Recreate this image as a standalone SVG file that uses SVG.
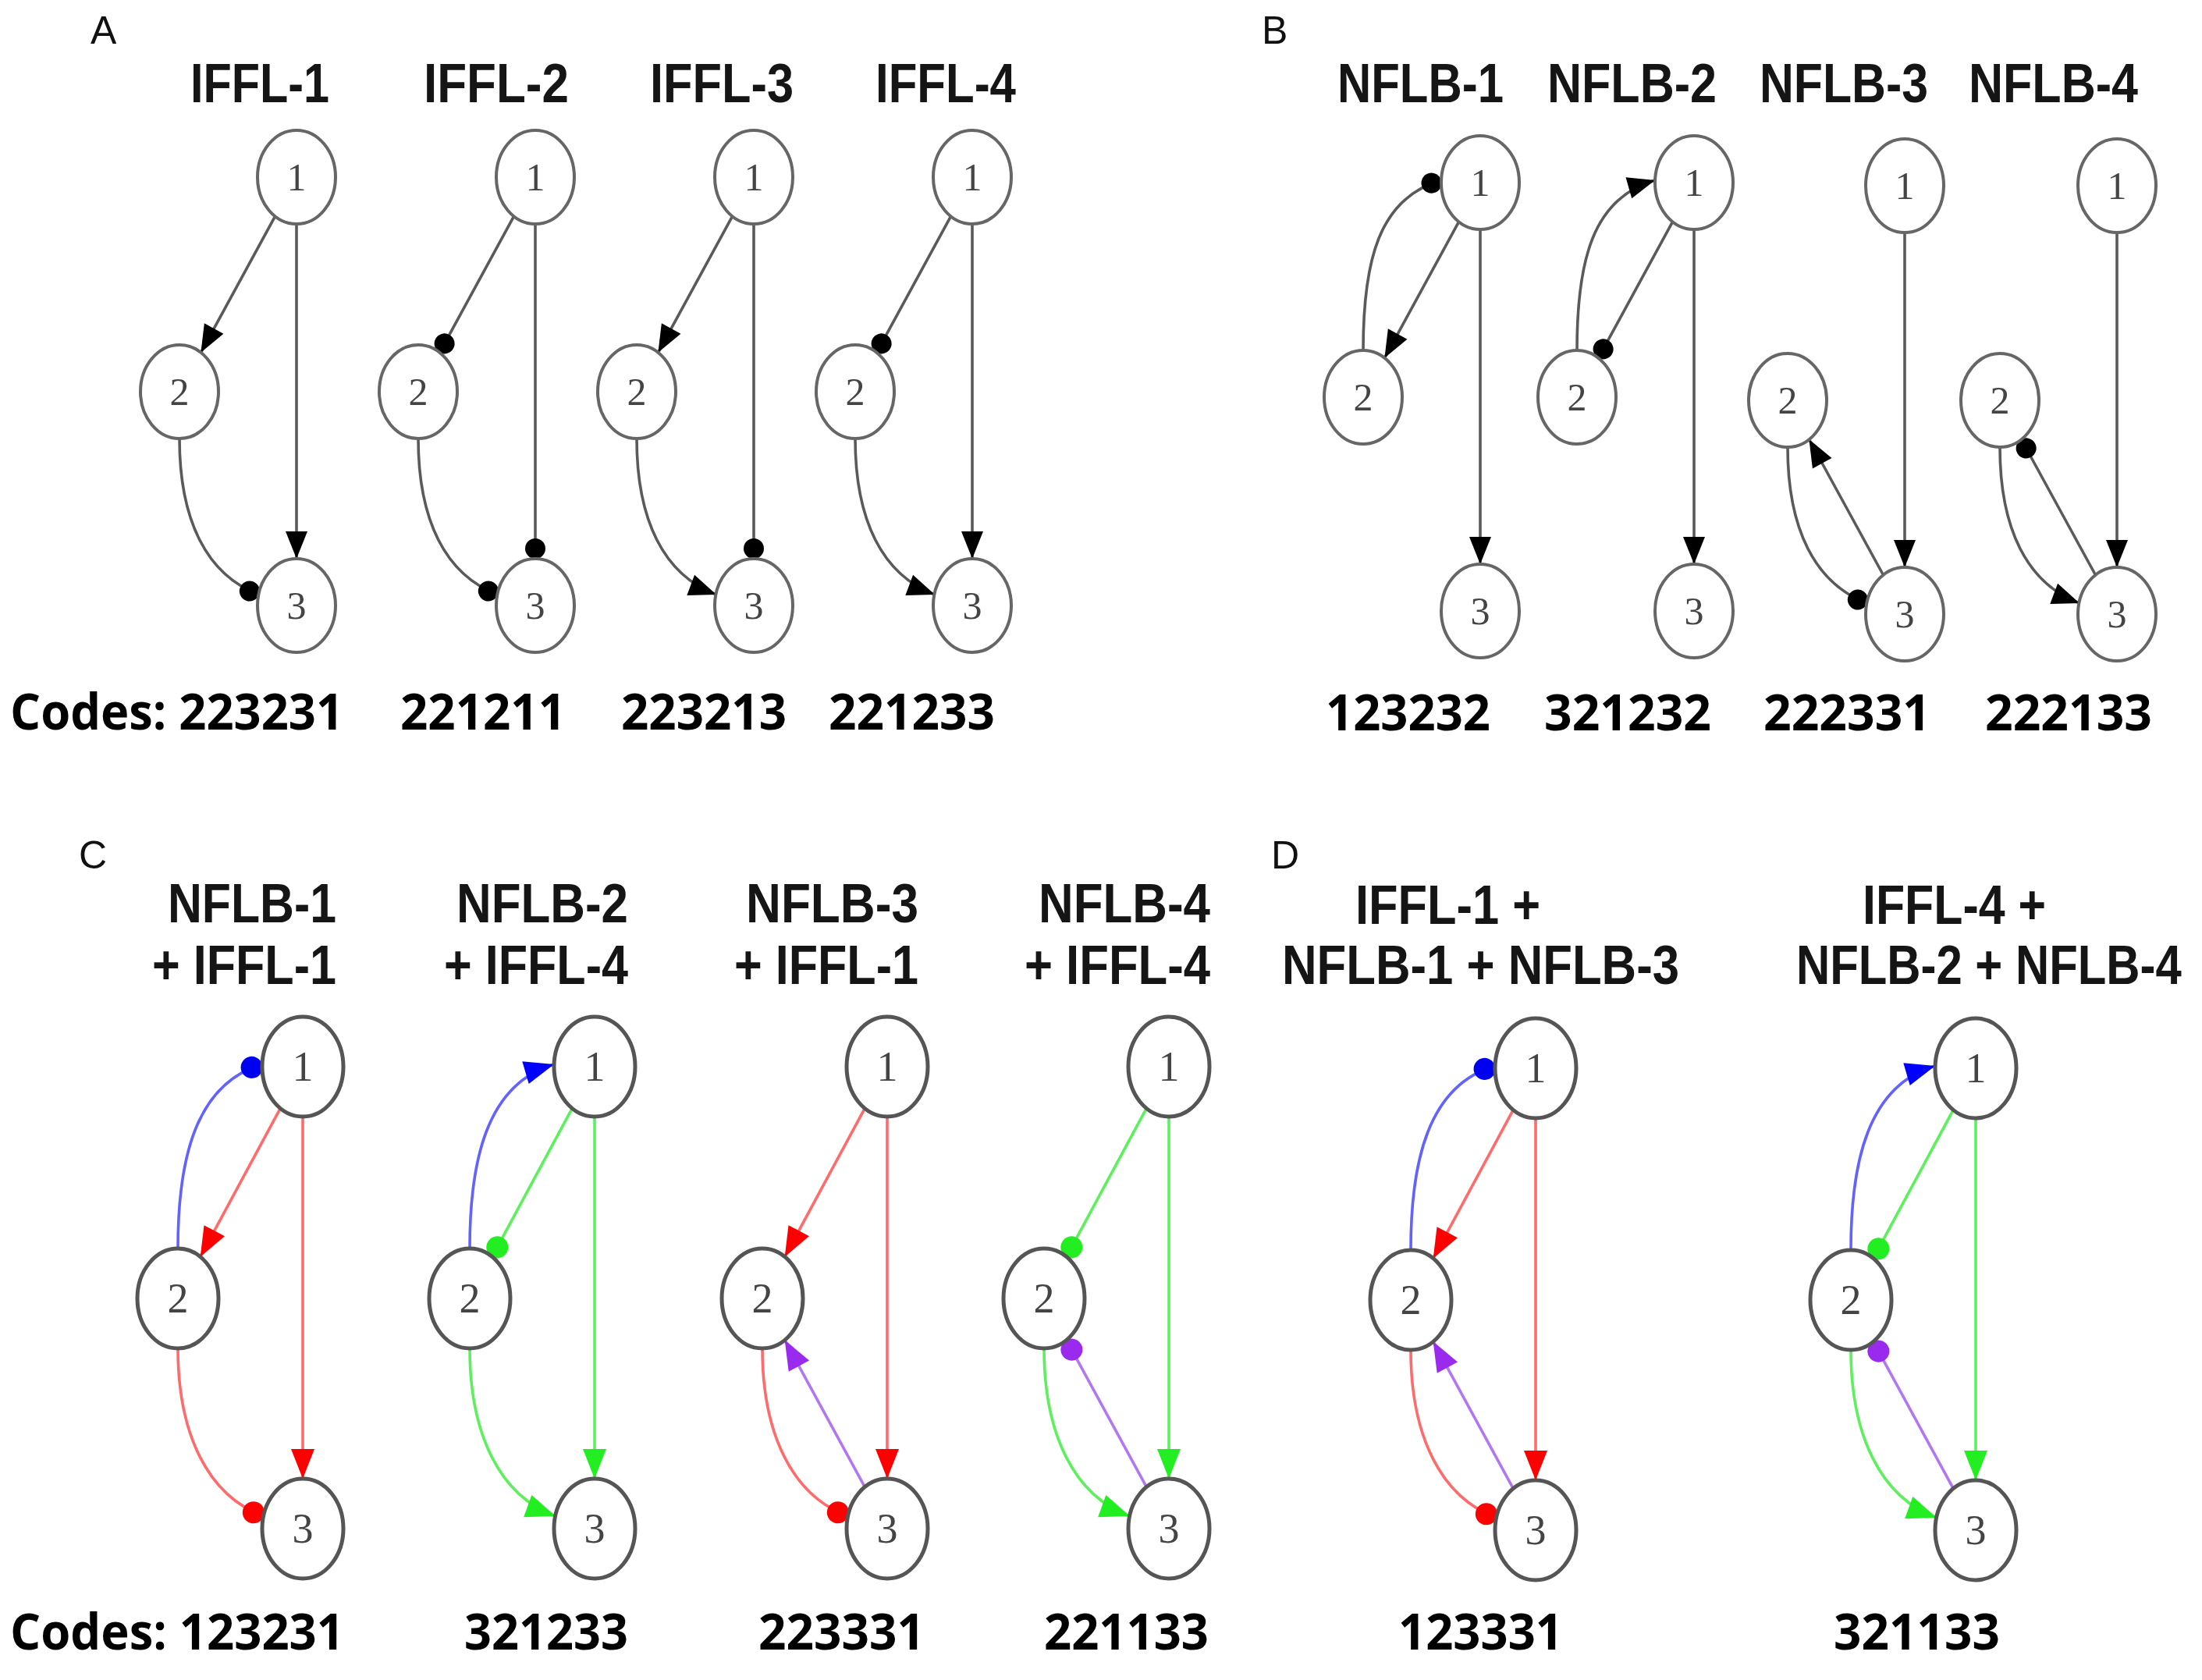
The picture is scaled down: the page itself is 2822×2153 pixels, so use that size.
<svg xmlns="http://www.w3.org/2000/svg" width="2822" height="2153" viewBox="0 0 2822 2153">
<style>
.bg{fill:#fff}
.node ellipse{fill:#fff;stroke:#666;stroke-width:4}
.node text{font-family:"Liberation Serif","Times New Roman",serif;font-size:50px;fill:#444;text-anchor:middle}
.nodeC ellipse{fill:#fff;stroke:#555;stroke-width:5}
.nodeC text{font-family:"Liberation Serif","Times New Roman",serif;font-size:54px;fill:#444;text-anchor:middle}
.e{fill:none;stroke-width:3.6}
.k{stroke:#5a5a5a}
.r{stroke:#ff6b6b}
.g{stroke:#5cf05c}
.b{stroke:#6262ff}
.p{stroke:#b277f0}
.title{font-family:"Liberation Sans",Arial,sans-serif;font-weight:bold;font-size:70px;fill:#151515}
.code{font-family:"Open Sans","Liberation Sans",sans-serif;font-weight:bold;font-size:64px;fill:#000}
.panel{font-family:"Liberation Sans",Arial,sans-serif;font-size:50px;fill:#111}
</style>
<defs>
<marker id="ak" markerUnits="userSpaceOnUse" markerWidth="40" markerHeight="30" refX="0" refY="0" orient="auto" style="overflow:visible"><path d="M-35,-14 L0,0 L-35,14 Z" fill="#000"/></marker>
<marker id="dk" markerUnits="userSpaceOnUse" markerWidth="30" markerHeight="30" refX="0" refY="0" orient="auto" style="overflow:visible"><circle cx="-13" cy="0" r="13" fill="#000"/></marker>
<marker id="ar" markerUnits="userSpaceOnUse" markerWidth="40" markerHeight="30" refX="0" refY="0" orient="auto" style="overflow:visible"><path d="M-38,-15 L0,0 L-38,15 Z" fill="#ff0000"/></marker>
<marker id="dr" markerUnits="userSpaceOnUse" markerWidth="30" markerHeight="30" refX="0" refY="0" orient="auto" style="overflow:visible"><circle cx="-14" cy="0" r="14" fill="#ff0000"/></marker>
<marker id="ag" markerUnits="userSpaceOnUse" markerWidth="40" markerHeight="30" refX="0" refY="0" orient="auto" style="overflow:visible"><path d="M-38,-15 L0,0 L-38,15 Z" fill="#22ee22"/></marker>
<marker id="dg" markerUnits="userSpaceOnUse" markerWidth="30" markerHeight="30" refX="0" refY="0" orient="auto" style="overflow:visible"><circle cx="-14" cy="0" r="14" fill="#22ee22"/></marker>
<marker id="ab" markerUnits="userSpaceOnUse" markerWidth="40" markerHeight="30" refX="0" refY="0" orient="auto" style="overflow:visible"><path d="M-38,-15 L0,0 L-38,15 Z" fill="#0000ff"/></marker>
<marker id="db" markerUnits="userSpaceOnUse" markerWidth="30" markerHeight="30" refX="0" refY="0" orient="auto" style="overflow:visible"><circle cx="-14" cy="0" r="14" fill="#0000f0"/></marker>
<marker id="ap" markerUnits="userSpaceOnUse" markerWidth="40" markerHeight="30" refX="0" refY="0" orient="auto" style="overflow:visible"><path d="M-38,-15 L0,0 L-38,15 Z" fill="#9a2bee"/></marker>
<marker id="dp" markerUnits="userSpaceOnUse" markerWidth="30" markerHeight="30" refX="0" refY="0" orient="auto" style="overflow:visible"><circle cx="-14" cy="0" r="14" fill="#9a2bee"/></marker>
</defs>
<rect class="bg" x="0" y="0" width="2822" height="2153"/>

<g id="labels">
<text class="panel" x="116" y="56">A</text>
<text class="panel" x="1617" y="56">B</text>
<text class="panel" x="101" y="1113">C</text>
<text class="panel" x="1629" y="1113">D</text>

<text class="title" x="244" y="131" textLength="178" lengthAdjust="spacingAndGlyphs">IFFL-1</text>
<text class="title" x="543" y="131" textLength="186" lengthAdjust="spacingAndGlyphs">IFFL-2</text>
<text class="title" x="833" y="131" textLength="184" lengthAdjust="spacingAndGlyphs">IFFL-3</text>
<text class="title" x="1122" y="131" textLength="180" lengthAdjust="spacingAndGlyphs">IFFL-4</text>

<text class="title" x="1714" y="131" textLength="213" lengthAdjust="spacingAndGlyphs">NFLB-1</text>
<text class="title" x="1983" y="131" textLength="217" lengthAdjust="spacingAndGlyphs">NFLB-2</text>
<text class="title" x="2255" y="131" textLength="216" lengthAdjust="spacingAndGlyphs">NFLB-3</text>
<text class="title" x="2523" y="131" textLength="217" lengthAdjust="spacingAndGlyphs">NFLB-4</text>

<text class="title" x="215" y="1182" textLength="216" lengthAdjust="spacingAndGlyphs">NFLB-1</text>
<text class="title" x="195" y="1261" textLength="236" lengthAdjust="spacingAndGlyphs">+ IFFL-1</text>
<text class="title" x="585" y="1182" textLength="220" lengthAdjust="spacingAndGlyphs">NFLB-2</text>
<text class="title" x="569" y="1261" textLength="236" lengthAdjust="spacingAndGlyphs">+ IFFL-4</text>
<text class="title" x="956" y="1182" textLength="221" lengthAdjust="spacingAndGlyphs">NFLB-3</text>
<text class="title" x="941" y="1261" textLength="236" lengthAdjust="spacingAndGlyphs">+ IFFL-1</text>
<text class="title" x="1331" y="1182" textLength="220" lengthAdjust="spacingAndGlyphs">NFLB-4</text>
<text class="title" x="1313" y="1261" textLength="238" lengthAdjust="spacingAndGlyphs">+ IFFL-4</text>

<text class="title" x="1737" y="1184" textLength="237" lengthAdjust="spacingAndGlyphs">IFFL-1 +</text>
<text class="title" x="1643" y="1261" textLength="509" lengthAdjust="spacingAndGlyphs">NFLB-1 + NFLB-3</text>
<text class="title" x="2387" y="1184" textLength="235" lengthAdjust="spacingAndGlyphs">IFFL-4 +</text>
<text class="title" transform="translate(2302,1261) scale(0.855,1)">NFLB-2 + NFLB-4</text>

<text class="code" x="13" y="935" textLength="427" lengthAdjust="spacingAndGlyphs">Codes: 223231</text>
<text class="code" x="513" y="935" textLength="212" lengthAdjust="spacingAndGlyphs">221211</text>
<text class="code" x="796" y="935" textLength="212" lengthAdjust="spacingAndGlyphs">223213</text>
<text class="code" x="1062" y="935" textLength="213" lengthAdjust="spacingAndGlyphs">221233</text>
<text class="code" x="1699" y="936" textLength="211" lengthAdjust="spacingAndGlyphs">123232</text>
<text class="code" x="1979" y="936" textLength="214" lengthAdjust="spacingAndGlyphs">321232</text>
<text class="code" x="2260" y="936" textLength="214" lengthAdjust="spacingAndGlyphs">222331</text>
<text class="code" x="2544" y="936" textLength="214" lengthAdjust="spacingAndGlyphs">222133</text>
<text class="code" x="13" y="2114" textLength="428" lengthAdjust="spacingAndGlyphs">Codes: 123231</text>
<text class="code" x="595" y="2114" textLength="210" lengthAdjust="spacingAndGlyphs">321233</text>
<text class="code" x="972" y="2114" textLength="213" lengthAdjust="spacingAndGlyphs">223331</text>
<text class="code" x="1338" y="2114" textLength="211" lengthAdjust="spacingAndGlyphs">221133</text>
<text class="code" x="1792" y="2114" textLength="211" lengthAdjust="spacingAndGlyphs">123331</text>
<text class="code" x="2350" y="2114" textLength="213" lengthAdjust="spacingAndGlyphs">321133</text>
</g>

<!-- Panel A -->
<g id="iffl1" transform="translate(230,227)">
<g id="iffl1-connectors">
<path class="e k" d="M122.6,50.2 L27.4,224.8" marker-end="url(#ak)"/>
<path class="e k" d="M150,60 L150,489" marker-end="url(#ak)"/>
<path class="e k" d="M0,335 C0,440 35,510 102,535" marker-end="url(#dk)"/>
</g>
<g id="iffl1-n1" class="node"><ellipse cx="150" cy="0" rx="50" ry="60"/><text x="150" y="17">1</text></g>
<g id="iffl1-n2" class="node"><ellipse cx="0" cy="275" rx="50" ry="60"/><text x="0" y="292">2</text></g>
<g id="iffl1-n3" class="node"><ellipse cx="150" cy="549" rx="50" ry="60"/><text x="150" y="566">3</text></g>
</g>

<g id="iffl2" transform="translate(536,227)">
<g id="iffl2-connectors">
<path class="e k" d="M122.6,50.2 L27.4,224.8" marker-end="url(#dk)"/>
<path class="e k" d="M150,60 L150,489" marker-end="url(#dk)"/>
<path class="e k" d="M0,335 C0,440 35,510 102,535" marker-end="url(#dk)"/>
</g>
<g id="iffl2-n1" class="node"><ellipse cx="150" cy="0" rx="50" ry="60"/><text x="150" y="17">1</text></g>
<g id="iffl2-n2" class="node"><ellipse cx="0" cy="275" rx="50" ry="60"/><text x="0" y="292">2</text></g>
<g id="iffl2-n3" class="node"><ellipse cx="150" cy="549" rx="50" ry="60"/><text x="150" y="566">3</text></g>
</g>

<g id="iffl3" transform="translate(816,227)">
<g id="iffl3-connectors">
<path class="e k" d="M122.6,50.2 L27.4,224.8" marker-end="url(#ak)"/>
<path class="e k" d="M150,60 L150,489" marker-end="url(#dk)"/>
<path class="e k" d="M0,335 C0,440 35,510 102,535" marker-end="url(#ak)"/>
</g>
<g id="iffl3-n1" class="node"><ellipse cx="150" cy="0" rx="50" ry="60"/><text x="150" y="17">1</text></g>
<g id="iffl3-n2" class="node"><ellipse cx="0" cy="275" rx="50" ry="60"/><text x="0" y="292">2</text></g>
<g id="iffl3-n3" class="node"><ellipse cx="150" cy="549" rx="50" ry="60"/><text x="150" y="566">3</text></g>
</g>

<g id="iffl4" transform="translate(1096,227)">
<g id="iffl4-connectors">
<path class="e k" d="M122.6,50.2 L27.4,224.8" marker-end="url(#dk)"/>
<path class="e k" d="M150,60 L150,489" marker-end="url(#ak)"/>
<path class="e k" d="M0,335 C0,440 35,510 102,535" marker-end="url(#ak)"/>
</g>
<g id="iffl4-n1" class="node"><ellipse cx="150" cy="0" rx="50" ry="60"/><text x="150" y="17">1</text></g>
<g id="iffl4-n2" class="node"><ellipse cx="0" cy="275" rx="50" ry="60"/><text x="0" y="292">2</text></g>
<g id="iffl4-n3" class="node"><ellipse cx="150" cy="549" rx="50" ry="60"/><text x="150" y="566">3</text></g>
</g>

<!-- Panel B -->
<g id="nflb1" transform="translate(1747,234)">
<g id="nflb1-connectors">
<path class="e k" d="M0,215 C0,100 20,20 100,-3" marker-end="url(#dk)"/>
<path class="e k" d="M122.6,50.2 L27.4,224.8" marker-end="url(#ak)"/>
<path class="e k" d="M150,60 L150,489" marker-end="url(#ak)"/>
</g>
<g id="nflb1-n1" class="node"><ellipse cx="150" cy="0" rx="50" ry="60"/><text x="150" y="17">1</text></g>
<g id="nflb1-n2" class="node"><ellipse cx="0" cy="275" rx="50" ry="60"/><text x="0" y="292">2</text></g>
<g id="nflb1-n3" class="node"><ellipse cx="150" cy="549" rx="50" ry="60"/><text x="150" y="566">3</text></g>
</g>

<g id="nflb2" transform="translate(2021,234)">
<g id="nflb2-connectors">
<path class="e k" d="M0,215 C0,100 20,20 100,-3" marker-end="url(#ak)"/>
<path class="e k" d="M122.6,50.2 L27.4,224.8" marker-end="url(#dk)"/>
<path class="e k" d="M150,60 L150,489" marker-end="url(#ak)"/>
</g>
<g id="nflb2-n1" class="node"><ellipse cx="150" cy="0" rx="50" ry="60"/><text x="150" y="17">1</text></g>
<g id="nflb2-n2" class="node"><ellipse cx="0" cy="275" rx="50" ry="60"/><text x="0" y="292">2</text></g>
<g id="nflb2-n3" class="node"><ellipse cx="150" cy="549" rx="50" ry="60"/><text x="150" y="566">3</text></g>
</g>

<g id="nflb3" transform="translate(2291,238)">
<g id="nflb3-connectors">
<path class="e k" d="M150,60 L150,489" marker-end="url(#ak)"/>
<path class="e k" d="M122.6,499 L27.4,325" marker-end="url(#ak)"/>
<path class="e k" d="M0,335 C0,440 35,510 102,535" marker-end="url(#dk)"/>
</g>
<g id="nflb3-n1" class="node"><ellipse cx="150" cy="0" rx="50" ry="60"/><text x="150" y="17">1</text></g>
<g id="nflb3-n2" class="node"><ellipse cx="0" cy="275" rx="50" ry="60"/><text x="0" y="292">2</text></g>
<g id="nflb3-n3" class="node"><ellipse cx="150" cy="549" rx="50" ry="60"/><text x="150" y="566">3</text></g>
</g>

<g id="nflb4" transform="translate(2563,238)">
<g id="nflb4-connectors">
<path class="e k" d="M150,60 L150,489" marker-end="url(#ak)"/>
<path class="e k" d="M122.6,499 L27.4,325" marker-end="url(#dk)"/>
<path class="e k" d="M0,335 C0,440 35,510 102,535" marker-end="url(#ak)"/>
</g>
<g id="nflb4-n1" class="node"><ellipse cx="150" cy="0" rx="50" ry="60"/><text x="150" y="17">1</text></g>
<g id="nflb4-n2" class="node"><ellipse cx="0" cy="275" rx="50" ry="60"/><text x="0" y="292">2</text></g>
<g id="nflb4-n3" class="node"><ellipse cx="150" cy="549" rx="50" ry="60"/><text x="150" y="566">3</text></g>
</g>

<!-- Panel C -->
<g id="c1" transform="translate(228,1367)">
<g id="c1-connectors">
<path class="e b" d="M0,233 C0,120 22,22 108,-3" marker-end="url(#db)"/>
<path class="e r" d="M131.3,53.3 L28.7,243.7" marker-end="url(#ar)"/>
<path class="e r" d="M160,64 L160,528" marker-end="url(#ar)"/>
<path class="e r" d="M0,361 C0,470 38,550 110,576" marker-end="url(#dr)"/>
</g>
<g id="c1-n1" class="nodeC"><ellipse cx="160" cy="0" rx="52" ry="64"/><text x="160" y="18">1</text></g>
<g id="c1-n2" class="nodeC"><ellipse cx="0" cy="297" rx="52" ry="64"/><text x="0" y="315">2</text></g>
<g id="c1-n3" class="nodeC"><ellipse cx="160" cy="592" rx="52" ry="64"/><text x="160" y="610">3</text></g>
</g>

<g id="c2" transform="translate(602,1367)">
<g id="c2-connectors">
<path class="e b" d="M0,233 C0,120 22,22 108,-3" marker-end="url(#ab)"/>
<path class="e g" d="M131.3,53.3 L28.7,243.7" marker-end="url(#dg)"/>
<path class="e g" d="M160,64 L160,528" marker-end="url(#ag)"/>
<path class="e g" d="M0,361 C0,470 38,550 110,576" marker-end="url(#ag)"/>
</g>
<g id="c2-n1" class="nodeC"><ellipse cx="160" cy="0" rx="52" ry="64"/><text x="160" y="18">1</text></g>
<g id="c2-n2" class="nodeC"><ellipse cx="0" cy="297" rx="52" ry="64"/><text x="0" y="315">2</text></g>
<g id="c2-n3" class="nodeC"><ellipse cx="160" cy="592" rx="52" ry="64"/><text x="160" y="610">3</text></g>
</g>

<g id="c3" transform="translate(977,1367)">
<g id="c3-connectors">
<path class="e r" d="M131.3,53.3 L28.7,243.7" marker-end="url(#ar)"/>
<path class="e r" d="M160,64 L160,528" marker-end="url(#ar)"/>
<path class="e p" d="M131.3,538.7 L28.7,350.3" marker-end="url(#ap)"/>
<path class="e r" d="M0,361 C0,470 38,550 110,576" marker-end="url(#dr)"/>
</g>
<g id="c3-n1" class="nodeC"><ellipse cx="160" cy="0" rx="52" ry="64"/><text x="160" y="18">1</text></g>
<g id="c3-n2" class="nodeC"><ellipse cx="0" cy="297" rx="52" ry="64"/><text x="0" y="315">2</text></g>
<g id="c3-n3" class="nodeC"><ellipse cx="160" cy="592" rx="52" ry="64"/><text x="160" y="610">3</text></g>
</g>

<g id="c4" transform="translate(1338,1367)">
<g id="c4-connectors">
<path class="e g" d="M131.3,53.3 L28.7,243.7" marker-end="url(#dg)"/>
<path class="e g" d="M160,64 L160,528" marker-end="url(#ag)"/>
<path class="e p" d="M131.3,538.7 L28.7,350.3" marker-end="url(#dp)"/>
<path class="e g" d="M0,361 C0,470 38,550 110,576" marker-end="url(#ag)"/>
</g>
<g id="c4-n1" class="nodeC"><ellipse cx="160" cy="0" rx="52" ry="64"/><text x="160" y="18">1</text></g>
<g id="c4-n2" class="nodeC"><ellipse cx="0" cy="297" rx="52" ry="64"/><text x="0" y="315">2</text></g>
<g id="c4-n3" class="nodeC"><ellipse cx="160" cy="592" rx="52" ry="64"/><text x="160" y="610">3</text></g>
</g>

<!-- Panel D -->
<g id="d1" transform="translate(1808,1369)">
<g id="d1-connectors">
<path class="e b" d="M0,233 C0,120 22,22 108,-3" marker-end="url(#db)"/>
<path class="e r" d="M131.3,53.3 L28.7,243.7" marker-end="url(#ar)"/>
<path class="e r" d="M160,64 L160,528" marker-end="url(#ar)"/>
<path class="e p" d="M131.3,538.7 L28.7,350.3" marker-end="url(#ap)"/>
<path class="e r" d="M0,361 C0,470 38,550 110,576" marker-end="url(#dr)"/>
</g>
<g id="d1-n1" class="nodeC"><ellipse cx="160" cy="0" rx="52" ry="64"/><text x="160" y="18">1</text></g>
<g id="d1-n2" class="nodeC"><ellipse cx="0" cy="297" rx="52" ry="64"/><text x="0" y="315">2</text></g>
<g id="d1-n3" class="nodeC"><ellipse cx="160" cy="592" rx="52" ry="64"/><text x="160" y="610">3</text></g>
</g>

<g id="d2" transform="translate(2372,1369)">
<g id="d2-connectors">
<path class="e b" d="M0,233 C0,120 22,22 108,-3" marker-end="url(#ab)"/>
<path class="e g" d="M131.3,53.3 L28.7,243.7" marker-end="url(#dg)"/>
<path class="e g" d="M160,64 L160,528" marker-end="url(#ag)"/>
<path class="e p" d="M131.3,538.7 L28.7,350.3" marker-end="url(#dp)"/>
<path class="e g" d="M0,361 C0,470 38,550 110,576" marker-end="url(#ag)"/>
</g>
<g id="d2-n1" class="nodeC"><ellipse cx="160" cy="0" rx="52" ry="64"/><text x="160" y="18">1</text></g>
<g id="d2-n2" class="nodeC"><ellipse cx="0" cy="297" rx="52" ry="64"/><text x="0" y="315">2</text></g>
<g id="d2-n3" class="nodeC"><ellipse cx="160" cy="592" rx="52" ry="64"/><text x="160" y="610">3</text></g>
</g>
</svg>
